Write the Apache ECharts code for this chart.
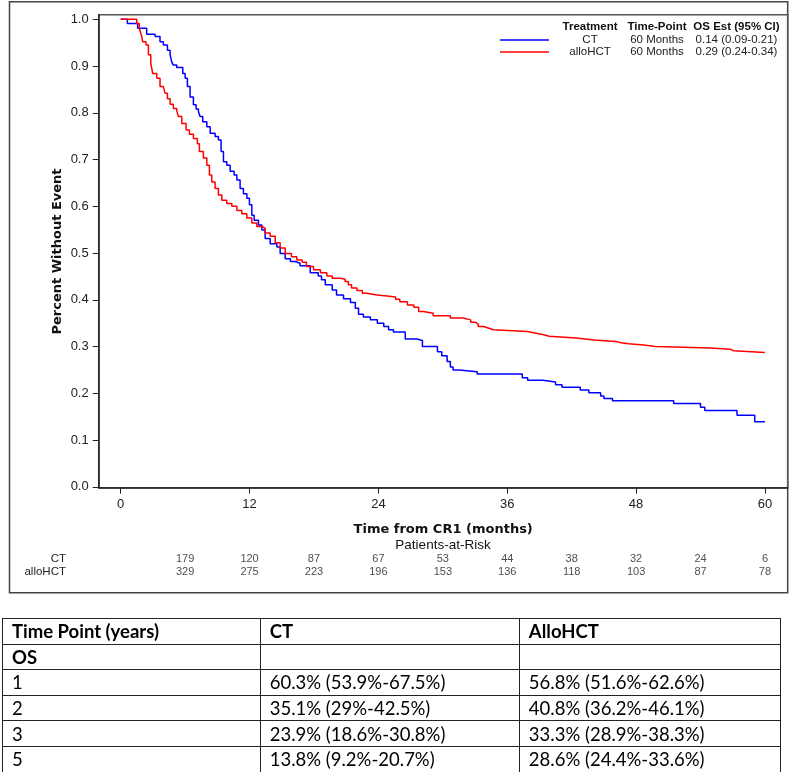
<!DOCTYPE html>
<html>
<head>
<meta charset="utf-8">
<script src="https://cdn.jsdelivr.net/npm/echarts@6/dist/echarts.min.js"></script>
<style>
body { margin: 0; background: #fff; }
#chart { position: absolute; left: 0; top: 0; width: 800px; height: 772px; }
#osTable {
    position: absolute; left: 2px; top: 618px; width: 779px;
    border-collapse: collapse; font-family: Lato, "Liberation Sans", sans-serif;
    font-size: 18.5px; color: #000;
}
#osTable td { border: 1px solid #222; height: 24.6px; padding: 0 0 0 9px; line-height: 18px; }
#osTable tr.head td, #osTable tr.sect td { font-weight: bold; }
</style>
</head>
<body>
<div id="chart"></div>
<table id="osTable"></table>
<script>
// Kaplan-Meier steps (months, survival after the drop)
const ctTime = [0, 0.62, 1.58, 2.42, 3.2, 3.66, 3.97, 4.35, 4.6, 4.75, 4.9, 5.22, 5.78, 6.0, 6.21, 6.46, 6.77, 7.02, 7.24, 7.39,
    7.64, 8.02, 8.33, 8.79, 9.1, 9.35, 9.57, 9.88, 10.19, 10.56, 10.82, 11.12, 11.43, 11.75, 11.99, 12.21, 12.43, 12.83, 13.15, 13.45,
    13.92, 14.55, 14.85, 15.32, 15.8, 16.25, 16.7, 17.65, 18.4, 18.7, 19.05, 19.7, 20.1, 20.75, 21.4, 21.85, 22.15, 22.6, 23.25, 23.9,
    24.5, 24.95, 25.4, 26.5, 27.6, 28.1, 29.5, 29.9, 30.4, 30.7, 30.95, 31.5, 33.2, 37.4, 37.9, 39.3, 40.5, 41.1, 42.8, 43.6,
    44.7, 45.0, 45.8, 51.5, 54.0, 54.4, 57.4, 59.05, 60];
const ctSurv = [1.0, 0.991, 0.981, 0.968, 0.963, 0.952, 0.945, 0.934, 0.924, 0.909, 0.902, 0.897, 0.884, 0.874, 0.856, 0.834, 0.817, 0.808, 0.802, 0.792,
    0.781, 0.770, 0.756, 0.749, 0.742, 0.717, 0.695, 0.688, 0.675, 0.667, 0.656, 0.638, 0.627, 0.617, 0.603, 0.581, 0.570, 0.560, 0.549, 0.531,
    0.52, 0.513, 0.499, 0.488, 0.482, 0.478, 0.473, 0.458, 0.451, 0.443, 0.432, 0.421, 0.41, 0.402, 0.394, 0.382, 0.369, 0.363, 0.357, 0.35,
    0.343, 0.336, 0.331, 0.316, 0.313, 0.30, 0.289, 0.28, 0.268, 0.256, 0.25, 0.246, 0.241, 0.233, 0.228, 0.224, 0.218, 0.213, 0.207, 0.201,
    0.194, 0.189, 0.184, 0.178, 0.17, 0.163, 0.153, 0.139, 0.139];
const alloTime = [0, 1.49, 1.74, 1.86, 1.96, 2.05, 2.36, 2.58, 2.8, 2.98, 3.36, 3.66, 3.97, 4.13, 4.35, 4.6, 4.9, 5.22, 5.37, 5.69,
    6.09, 6.4, 6.77, 7.14, 7.33, 7.7, 8.02, 8.26, 8.48, 8.79, 9.1, 9.42, 9.88, 10.35, 10.82, 11.28, 11.75, 12.21, 12.68, 13.15,
    13.45, 13.92, 14.39, 14.85, 15.32, 15.9, 16.4, 16.9, 17.3, 17.96, 18.6, 19.2, 19.7, 20.45, 20.9, 21.2, 21.5, 22.0, 22.5, 22.9,
    23.9, 24.8, 25.6, 26.0, 26.7, 27.3, 27.75, 28.2, 29.1, 30.7, 31.9, 32.6, 33.0, 33.3, 33.8, 34.3, 34.7, 37.9, 38.8, 39.4,
    39.9, 42.4, 44.1, 46.1, 46.6, 47.3, 48.7, 49.8, 54.9, 56.8, 57.1, 60];
const alloSurv = [1.0, 0.991, 0.981, 0.970, 0.963, 0.952, 0.945, 0.924, 0.906, 0.884, 0.874, 0.856, 0.852, 0.842, 0.83, 0.818, 0.809, 0.804, 0.792, 0.777,
    0.763, 0.754, 0.745, 0.734, 0.717, 0.703, 0.688, 0.667, 0.652, 0.638, 0.624, 0.613, 0.606, 0.600, 0.591, 0.584, 0.575, 0.564, 0.557, 0.553,
    0.543, 0.536, 0.522, 0.511, 0.499, 0.492, 0.485, 0.48, 0.471, 0.464, 0.458, 0.451, 0.446, 0.444, 0.439, 0.432, 0.425, 0.42, 0.414, 0.41,
    0.408, 0.406, 0.401, 0.396, 0.389, 0.384, 0.375, 0.371, 0.366, 0.361, 0.357, 0.352, 0.348, 0.343, 0.339, 0.336, 0.332, 0.328, 0.325, 0.322,
    0.318, 0.314, 0.311, 0.308, 0.306, 0.303, 0.30, 0.297, 0.294, 0.291, 0.287, 0.287];

const groups = ["CT", "alloHCT"];
const timePoint = ["60 Months", "60 Months"];
const osEst = ["0.14 (0.09-0.21)", "0.29 (0.24-0.34)"];

const xTicks = [0, 12, 24, 36, 48, 60];
const yTicks = [0, 0.1, 0.2, 0.3, 0.4, 0.5, 0.6, 0.7, 0.8, 0.9, 1.0];

// patients at risk
const riskTime = [6, 12, 18, 24, 30, 36, 42, 48, 54, 60];
const riskCT = [179, 120, 87, 67, 53, 44, 38, 32, 24, 6];
const riskAllo = [329, 275, 223, 196, 153, 136, 118, 103, 87, 78];

// table under the chart
const tableHead = ["Time Point (years)", "CT", "AlloHCT"];
const tableSection = "OS";
const tableYears = ["1", "2", "3", "5"];
const tableCT = ["60.3% (53.9%-67.5%)", "35.1% (29%-42.5%)", "23.9% (18.6%-30.8%)", "13.8% (9.2%-20.7%)"];
const tableAllo = ["56.8% (51.6%-62.6%)", "40.8% (36.2%-46.1%)", "33.3% (28.9%-38.3%)", "28.6% (24.4%-33.6%)"];

const font = "'Liberation Sans', Arial, sans-serif";
const xMin = -2.05, xMax = 62.12;

function zip(a, b) { return a.map((v, i) => [v, b[i]]); }

const chart = echarts.init(document.getElementById("chart"));

const option = {
    animation: false,
    textStyle: { fontFamily: font },
    title: {
        left: 554, top: 20, padding: 0,
        text: "{a|Treatment}{b|Time-Point}{c|OS Est (95% CI)}",
        textStyle: {
            rich: {
                a: { width: 72, align: "center", fontWeight: "bold", fontSize: 11.5, lineHeight: 14, color: "#111", fontFamily: font },
                b: { width: 62, align: "center", fontWeight: "bold", fontSize: 11.5, lineHeight: 14, color: "#111", fontFamily: font },
                c: { width: 97, align: "center", fontWeight: "bold", fontSize: 11.5, lineHeight: 14, color: "#111", fontFamily: font }
            }
        }
    },
    legend: {
        orient: "vertical", left: 500, top: 34, padding: 0, itemGap: 0,
        itemWidth: 49, itemHeight: 1.6, icon: "rect",
        data: groups,
        formatter: function (name) {
            const i = groups.indexOf(name);
            return "{a|" + name + "}{b|" + timePoint[i] + "}{c|" + osEst[i] + "}";
        },
        textStyle: {
            rich: {
                a: { width: 72, align: "center", fontSize: 11.5, lineHeight: 14, color: "#222", fontFamily: font },
                b: { width: 62, align: "center", fontSize: 11.5, lineHeight: 14, color: "#222", fontFamily: font },
                c: { width: 97, align: "center", fontSize: 11.5, lineHeight: 14, color: "#222", fontFamily: font }
            }
        }
    },
    grid: [
        { left: 98.7, right: 12.3, top: 14.7, height: 473, show: true, borderColor: "#555", borderWidth: 1.5 },
        { left: 98.7, right: 12.3, top: 552.5, height: 26 }
    ],
    xAxis: [
        {
            type: "value", min: xMin, max: xMax,
            name: "Time from CR1 (months)", nameLocation: "middle", nameGap: 35,
            nameTextStyle: { fontFamily: "'DejaVu Sans', sans-serif", fontWeight: "bold", fontSize: 13, color: "#111" },
            axisLine: { onZero: false, lineStyle: { color: "#222", width: 1.5 } },
            axisTick: { customValues: xTicks, length: 6, lineStyle: { color: "#222" } },
            axisLabel: { customValues: xTicks, margin: 10, fontSize: 13, color: "#222", fontFamily: font },
            splitLine: { show: false }
        },
        { type: "value", min: xMin, max: xMax, gridIndex: 1, show: false }
    ],
    yAxis: [
        {
            type: "value", min: -0.002, max: 1.0098,
            axisLine: { show: true, onZero: false, lineStyle: { color: "#222", width: 1.5 } },
            axisTick: { show: true, customValues: yTicks, length: 6, lineStyle: { color: "#222" } },
            axisLabel: {
                customValues: yTicks, margin: 10, fontSize: 13, color: "#222", fontFamily: font,
                formatter: (v) => v.toFixed(1)
            },
            splitLine: { show: false }
        },
        {
            type: "category", gridIndex: 1, inverse: true, data: groups,
            axisLine: { show: false }, axisTick: { show: false },
            axisLabel: { interval: 0, margin: 32.7, fontSize: 11.5, color: "#222", fontFamily: font }
        }
    ],
    graphic: [
        {
            type: "rect", silent: true, z: -1,
            shape: { x: 9.5, y: 1.7, width: 778.2, height: 591 },
            style: { fill: "none", stroke: "#444", lineWidth: 1.5 }
        },
        {
            type: "text", x: 58, y: 251.5, rotation: Math.PI / 2,
            style: {
                text: "Percent Without Event", textAlign: "center", textVerticalAlign: "middle",
                font: "bold 13px 'DejaVu Sans', sans-serif", fill: "#111"
            }
        },
        {
            type: "text", x: 443, y: 545,
            style: {
                text: "Patients-at-Risk", textAlign: "center", textVerticalAlign: "middle",
                font: "13.5px 'Liberation Sans', Arial, sans-serif", fill: "#111"
            }
        }
    ],
    series: [
        {
            name: "CT", type: "line", step: "end", showSymbol: false, symbol: "none",
            data: zip(ctTime, ctSurv),
            itemStyle: { color: "#0000ff" },
            lineStyle: { color: "#0000ff", width: 1.5 }
        },
        {
            name: "alloHCT", type: "line", step: "end", showSymbol: false, symbol: "none",
            data: zip(alloTime, alloSurv),
            itemStyle: { color: "#ff0000" },
            lineStyle: { color: "#ff0000", width: 1.5 }
        },
        {
            name: "risk", type: "scatter", xAxisIndex: 1, yAxisIndex: 1, symbolSize: 1,
            itemStyle: { color: "rgba(0,0,0,0)" },
            label: {
                show: true, position: "inside", color: "#222", fontSize: 11, fontFamily: font,
                formatter: (p) => p.value[2]
            },
            data: riskTime.map((t, i) => [t, "CT", riskCT[i]])
                .concat(riskTime.map((t, i) => [t, "alloHCT", riskAllo[i]]))
        }
    ]
};

chart.setOption(option);

// build the OS table
const table = document.getElementById("osTable");
let html = "<tr class='head'>" + tableHead.map((h, i) =>
    "<td style='width:" + [249, 250, 252][i] + "px'>" + h + "</td>").join("") + "</tr>";
html += "<tr class='sect'><td>" + tableSection + "</td><td></td><td></td></tr>";
tableYears.forEach((y, i) => {
    html += "<tr><td>" + y + "</td><td>" + tableCT[i] + "</td><td>" + tableAllo[i] + "</td></tr>";
});
table.innerHTML = html;
</script>
</body>
</html>
